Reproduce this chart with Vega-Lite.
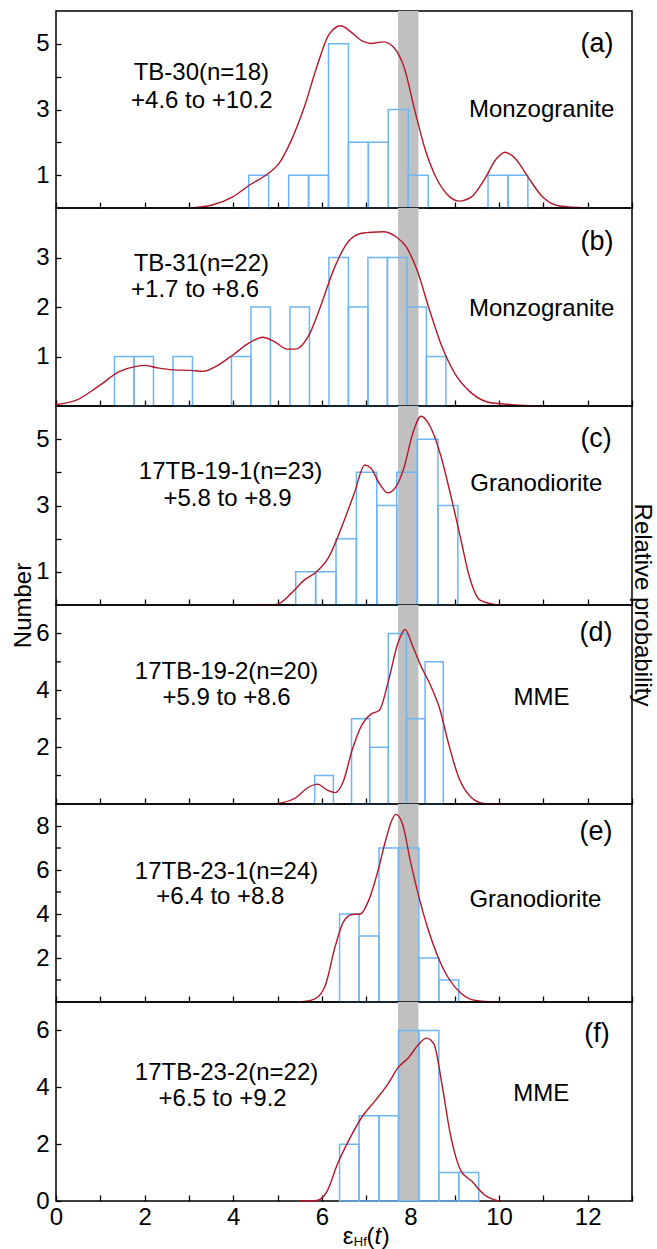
{
 "$schema": "https://vega.github.io/schema/vega-lite/v6.json",
 "padding": {"left": 10, "top": 10, "right": 2, "bottom": 0},
 "autosize": {"type": "pad"},
 "bounds": "flush",
 "data": {"values": [{}]},
 "datasets": {
  "band": [{"lo": 7.72, "hi": 8.18}],
  "minor": [{"p":"d","v":1},{"p":"d","v":3},{"p":"d","v":5},{"p":"e","v":1},{"p":"e","v":3},{"p":"e","v":5},{"p":"e","v":7}],
  "bars": [
   {"p":"a","x0":4.35,"x1":4.80,"n":1},{"p":"a","x0":5.25,"x1":5.70,"n":1},{"p":"a","x0":5.70,"x1":6.15,"n":1},{"p":"a","x0":6.15,"x1":6.60,"n":5},{"p":"a","x0":6.60,"x1":7.05,"n":2},{"p":"a","x0":7.05,"x1":7.50,"n":2},{"p":"a","x0":7.50,"x1":7.95,"n":3},{"p":"a","x0":7.95,"x1":8.40,"n":1},{"p":"a","x0":9.75,"x1":10.20,"n":1},{"p":"a","x0":10.20,"x1":10.65,"n":1},
   {"p":"b","x0":1.32,"x1":1.76,"n":1},{"p":"b","x0":1.76,"x1":2.20,"n":1},{"p":"b","x0":2.64,"x1":3.08,"n":1},{"p":"b","x0":3.96,"x1":4.40,"n":1},{"p":"b","x0":4.40,"x1":4.84,"n":2},{"p":"b","x0":5.28,"x1":5.72,"n":2},{"p":"b","x0":6.16,"x1":6.60,"n":3},{"p":"b","x0":6.60,"x1":7.04,"n":2},{"p":"b","x0":7.04,"x1":7.48,"n":3},{"p":"b","x0":7.48,"x1":7.92,"n":3},{"p":"b","x0":7.92,"x1":8.36,"n":2},{"p":"b","x0":8.36,"x1":8.80,"n":1},
   {"p":"c","x0":5.41,"x1":5.86,"n":1},{"p":"c","x0":5.86,"x1":6.32,"n":1},{"p":"c","x0":6.32,"x1":6.78,"n":2},{"p":"c","x0":6.78,"x1":7.24,"n":4},{"p":"c","x0":7.24,"x1":7.69,"n":3},{"p":"c","x0":7.69,"x1":8.15,"n":4},{"p":"c","x0":8.15,"x1":8.62,"n":5},{"p":"c","x0":8.62,"x1":9.07,"n":3},
   {"p":"d","x0":5.84,"x1":6.26,"n":1},{"p":"d","x0":6.67,"x1":7.08,"n":3},{"p":"d","x0":7.08,"x1":7.50,"n":2},{"p":"d","x0":7.50,"x1":7.91,"n":6},{"p":"d","x0":7.91,"x1":8.33,"n":3},{"p":"d","x0":8.33,"x1":8.74,"n":5},
   {"p":"e","x0":6.40,"x1":6.84,"n":4},{"p":"e","x0":6.84,"x1":7.29,"n":3},{"p":"e","x0":7.29,"x1":7.73,"n":7},{"p":"e","x0":7.73,"x1":8.19,"n":7},{"p":"e","x0":8.19,"x1":8.64,"n":2},{"p":"e","x0":8.64,"x1":9.09,"n":1},
   {"p":"f","x0":6.40,"x1":6.84,"n":2},{"p":"f","x0":6.84,"x1":7.29,"n":3},{"p":"f","x0":7.29,"x1":7.73,"n":3},{"p":"f","x0":7.73,"x1":8.19,"n":6},{"p":"f","x0":8.19,"x1":8.64,"n":6},{"p":"f","x0":8.64,"x1":9.09,"n":1},{"p":"f","x0":9.09,"x1":9.54,"n":1}
  ],
  "curve": [
   {"p":"a","x":3.0,"y":0},{"p":"a","x":3.52,"y":0.09},{"p":"a","x":3.99,"y":0.34},{"p":"a","x":4.37,"y":0.70},{"p":"a","x":4.79,"y":1.05},{"p":"a","x":5.03,"y":1.35},{"p":"a","x":5.31,"y":2.06},{"p":"a","x":5.60,"y":3.06},{"p":"a","x":5.88,"y":4.27},{"p":"a","x":6.16,"y":5.28},{"p":"a","x":6.43,"y":5.55},{"p":"a","x":6.64,"y":5.38},{"p":"a","x":6.92,"y":5.08},{"p":"a","x":7.11,"y":5.01},{"p":"a","x":7.39,"y":5.06},{"p":"a","x":7.63,"y":4.88},{"p":"a","x":7.86,"y":4.27},{"p":"a","x":8.10,"y":2.96},{"p":"a","x":8.34,"y":1.75},{"p":"a","x":8.57,"y":0.95},{"p":"a","x":8.81,"y":0.44},{"p":"a","x":9.09,"y":0.21},{"p":"a","x":9.38,"y":0.34},{"p":"a","x":9.66,"y":0.85},{"p":"a","x":9.94,"y":1.50},{"p":"a","x":10.13,"y":1.70},{"p":"a","x":10.37,"y":1.50},{"p":"a","x":10.65,"y":0.95},{"p":"a","x":10.98,"y":0.34},{"p":"a","x":11.36,"y":0.06},{"p":"a","x":11.98,"y":0},
   {"p":"b","x":0,"y":0.03},{"p":"b","x":0.49,"y":0.13},{"p":"b","x":0.96,"y":0.40},{"p":"b","x":1.44,"y":0.70},{"p":"b","x":1.81,"y":0.80},{"p":"b","x":2.0,"y":0.82},{"p":"b","x":2.29,"y":0.77},{"p":"b","x":2.66,"y":0.73},{"p":"b","x":3.04,"y":0.72},{"p":"b","x":3.33,"y":0.70},{"p":"b","x":3.61,"y":0.80},{"p":"b","x":3.99,"y":1.03},{"p":"b","x":4.37,"y":1.28},{"p":"b","x":4.67,"y":1.39},{"p":"b","x":4.93,"y":1.30},{"p":"b","x":5.22,"y":1.15},{"p":"b","x":5.41,"y":1.15},{"p":"b","x":5.69,"y":1.40},{"p":"b","x":5.97,"y":2.01},{"p":"b","x":6.26,"y":2.74},{"p":"b","x":6.54,"y":3.25},{"p":"b","x":6.82,"y":3.47},{"p":"b","x":7.11,"y":3.51},{"p":"b","x":7.39,"y":3.52},{"p":"b","x":7.67,"y":3.42},{"p":"b","x":7.91,"y":3.21},{"p":"b","x":8.15,"y":2.74},{"p":"b","x":8.43,"y":1.94},{"p":"b","x":8.71,"y":1.20},{"p":"b","x":9.0,"y":0.66},{"p":"b","x":9.38,"y":0.26},{"p":"b","x":9.85,"y":0.06},{"p":"b","x":10.98,"y":0},
   {"p":"c","x":4.51,"y":0},{"p":"c","x":4.98,"y":0.02},{"p":"c","x":5.31,"y":0.35},{"p":"c","x":5.60,"y":0.75},{"p":"c","x":5.88,"y":1.0},{"p":"c","x":6.16,"y":1.45},{"p":"c","x":6.45,"y":2.36},{"p":"c","x":6.73,"y":3.36},{"p":"c","x":6.97,"y":4.22},{"p":"c","x":7.11,"y":4.12},{"p":"c","x":7.30,"y":3.66},{"p":"c","x":7.49,"y":3.38},{"p":"c","x":7.67,"y":3.56},{"p":"c","x":7.86,"y":4.17},{"p":"c","x":8.05,"y":5.17},{"p":"c","x":8.24,"y":5.69},{"p":"c","x":8.43,"y":5.42},{"p":"c","x":8.67,"y":4.57},{"p":"c","x":8.90,"y":3.36},{"p":"c","x":9.14,"y":1.96},{"p":"c","x":9.33,"y":0.85},{"p":"c","x":9.57,"y":0.15},{"p":"c","x":9.99,"y":0},
   {"p":"d","x":4.98,"y":0.01},{"p":"d","x":5.41,"y":0.22},{"p":"d","x":5.69,"y":0.58},{"p":"d","x":5.90,"y":0.70},{"p":"d","x":6.12,"y":0.49},{"p":"d","x":6.30,"y":0.40},{"p":"d","x":6.49,"y":0.82},{"p":"d","x":6.68,"y":1.88},{"p":"d","x":6.92,"y":2.83},{"p":"d","x":7.11,"y":3.16},{"p":"d","x":7.30,"y":3.30},{"p":"d","x":7.49,"y":4.25},{"p":"d","x":7.72,"y":5.67},{"p":"d","x":7.88,"y":6.14},{"p":"d","x":8.05,"y":5.55},{"p":"d","x":8.24,"y":4.84},{"p":"d","x":8.43,"y":4.25},{"p":"d","x":8.67,"y":3.30},{"p":"d","x":8.86,"y":2.12},{"p":"d","x":9.09,"y":0.93},{"p":"d","x":9.38,"y":0.22},{"p":"d","x":9.66,"y":0.02},{"p":"d","x":9.99,"y":0},
   {"p":"e","x":5.50,"y":0},{"p":"e","x":5.83,"y":0.13},{"p":"e","x":6.07,"y":0.70},{"p":"e","x":6.30,"y":2.52},{"p":"e","x":6.49,"y":3.65},{"p":"e","x":6.68,"y":3.98},{"p":"e","x":6.87,"y":4.0},{"p":"e","x":7.06,"y":4.63},{"p":"e","x":7.25,"y":5.84},{"p":"e","x":7.44,"y":7.35},{"p":"e","x":7.58,"y":8.26},{"p":"e","x":7.67,"y":8.53},{"p":"e","x":7.82,"y":8.10},{"p":"e","x":8.01,"y":6.29},{"p":"e","x":8.19,"y":4.78},{"p":"e","x":8.38,"y":3.42},{"p":"e","x":8.62,"y":2.06},{"p":"e","x":8.86,"y":1.08},{"p":"e","x":9.14,"y":0.40},{"p":"e","x":9.47,"y":0.07},{"p":"e","x":9.94,"y":0},
   {"p":"f","x":5.50,"y":0},{"p":"f","x":5.88,"y":0.02},{"p":"f","x":6.12,"y":0.35},{"p":"f","x":6.35,"y":1.29},{"p":"f","x":6.64,"y":2.23},{"p":"f","x":6.92,"y":2.99},{"p":"f","x":7.20,"y":3.52},{"p":"f","x":7.49,"y":4.11},{"p":"f","x":7.72,"y":4.69},{"p":"f","x":7.96,"y":5.05},{"p":"f","x":8.19,"y":5.52},{"p":"f","x":8.36,"y":5.73},{"p":"f","x":8.53,"y":5.52},{"p":"f","x":8.71,"y":4.11},{"p":"f","x":8.90,"y":2.35},{"p":"f","x":9.14,"y":1.06},{"p":"f","x":9.38,"y":0.70},{"p":"f","x":9.66,"y":0.23},{"p":"f","x":9.99,"y":0}
  ]
 },
 "config": {
  "font": "Liberation Sans",
  "view": {"stroke": "#000", "strokeWidth": 1.5},
  "axis": {"labelFont": "Liberation Sans", "titleFont": "Liberation Sans", "labelFontSize": 24, "labelColor": "#000", "tickColor": "#000", "tickWidth": 1.3, "titleColor": "#000", "titleFontWeight": "normal", "titleFontSize": 24, "grid": false, "domain": false, "labelOverlap": false, "labelFlush": false},
  "text": {"font": "Liberation Sans", "fontSize": 24, "color": "#000"},
  "concat": {"spacing": 0}
 },
 "spacing": 0,
 "vconcat": [
  {"width": 576, "height": 197, "layer": [
   {"data": {"name": "band"}, "mark": {"type": "rect", "color": "#c0c0c0"}, "encoding": {"x": {"field": "lo", "type": "quantitative", "scale": {"domain": [0, 13], "nice": false, "zero": false}, "axis": {"values": [0,1,2,3,4,5,6,7,8,9,10,11,12,13], "labels": false, "tickSize": -6, "title": null}}, "x2": {"field": "hi"}}},
   {"data": {"name": "bars"}, "transform": [{"filter": "datum.p == 'a'"}], "mark": {"type": "rect", "fillOpacity": 0, "stroke": "#6db6f5", "strokeWidth": 1.5}, "encoding": {"x": {"field": "x0", "type": "quantitative"}, "x2": {"field": "x1"}, "y": {"field": "n", "type": "quantitative", "scale": {"domain": [0, 6], "nice": false}, "axis": {"values": [1,2,3,4,5], "labelExpr": "datum.value % 2 == 1 ? datum.label : ''", "labelOverlap": false, "tickSize": -5, "labelPadding": 12, "title": null}}, "y2": {"datum": 0}}},
   {"data": {"name": "curve"}, "transform": [{"filter": "datum.p == 'a'"}], "mark": {"type": "line", "color": "#b2182b", "strokeWidth": 1.4, "interpolate": "monotone"}, "encoding": {"x": {"field": "x", "type": "quantitative"}, "y": {"field": "y", "type": "quantitative"}}},
   {"mark": {"type": "text", "text": "TB-30(n=18)"}, "encoding": {"x": {"datum": 3.28}, "y": {"datum": 4.12}}},
   {"mark": {"type": "text", "text": "+4.6 to +10.2"}, "encoding": {"x": {"datum": 3.29}, "y": {"datum": 3.26}}},
   {"mark": {"type": "text", "text": "Monzogranite"}, "encoding": {"x": {"datum": 10.96}, "y": {"datum": 2.98}}},
   {"mark": {"type": "text", "text": "(a)", "fontSize": 27}, "encoding": {"x": {"datum": 12.21}, "y": {"datum": 4.98}}}
  ]},
  {"width": 576, "height": 198, "layer": [
   {"data": {"name": "band"}, "mark": {"type": "rect", "color": "#c0c0c0"}, "encoding": {"x": {"field": "lo", "type": "quantitative", "scale": {"domain": [0, 13], "nice": false, "zero": false}, "axis": {"values": [0,1,2,3,4,5,6,7,8,9,10,11,12,13], "labels": false, "tickSize": -6, "title": null}}, "x2": {"field": "hi"}}},
   {"data": {"name": "bars"}, "transform": [{"filter": "datum.p == 'b'"}], "mark": {"type": "rect", "fillOpacity": 0, "stroke": "#6db6f5", "strokeWidth": 1.5}, "encoding": {"x": {"field": "x0", "type": "quantitative"}, "x2": {"field": "x1"}, "y": {"field": "n", "type": "quantitative", "scale": {"domain": [0, 4], "nice": false}, "axis": {"values": [1,2,3], "labelOverlap": false, "tickSize": -5, "labelPadding": 12, "title": null}}, "y2": {"datum": 0}}},
   {"data": {"name": "curve"}, "transform": [{"filter": "datum.p == 'b'"}], "mark": {"type": "line", "color": "#b2182b", "strokeWidth": 1.4, "interpolate": "monotone"}, "encoding": {"x": {"field": "x", "type": "quantitative"}, "y": {"field": "y", "type": "quantitative"}}},
   {"mark": {"type": "text", "text": "TB-31(n=22)"}, "encoding": {"x": {"datum": 3.28}, "y": {"datum": 2.87}}},
   {"mark": {"type": "text", "text": "+1.7 to +8.6"}, "encoding": {"x": {"datum": 3.14}, "y": {"datum": 2.34}}},
   {"mark": {"type": "text", "text": "Monzogranite"}, "encoding": {"x": {"datum": 10.96}, "y": {"datum": 1.95}}},
   {"mark": {"type": "text", "text": "(b)", "fontSize": 27}, "encoding": {"x": {"datum": 12.21}, "y": {"datum": 3.32}}}
  ]},
  {"width": 576, "height": 199, "layer": [
   {"data": {"name": "band"}, "mark": {"type": "rect", "color": "#c0c0c0"}, "encoding": {"x": {"field": "lo", "type": "quantitative", "scale": {"domain": [0, 13], "nice": false, "zero": false}, "axis": {"values": [0,1,2,3,4,5,6,7,8,9,10,11,12,13], "labels": false, "tickSize": -6, "title": null}}, "x2": {"field": "hi"}}},
   {"data": {"name": "bars"}, "transform": [{"filter": "datum.p == 'c'"}], "mark": {"type": "rect", "fillOpacity": 0, "stroke": "#6db6f5", "strokeWidth": 1.5}, "encoding": {"x": {"field": "x0", "type": "quantitative"}, "x2": {"field": "x1"}, "y": {"field": "n", "type": "quantitative", "scale": {"domain": [0, 6], "nice": false}, "axis": {"values": [1,2,3,4,5], "labelExpr": "datum.value % 2 == 1 ? datum.label : ''", "labelOverlap": false, "tickSize": -5, "labelPadding": 12, "title": "Number", "titleY": 199, "titlePadding": 0}}, "y2": {"datum": 0}}},
   {"data": {"name": "curve"}, "transform": [{"filter": "datum.p == 'c'"}], "mark": {"type": "line", "color": "#b2182b", "strokeWidth": 1.4, "interpolate": "monotone"}, "encoding": {"x": {"field": "x", "type": "quantitative"}, "y": {"field": "y", "type": "quantitative"}}},
   {"mark": {"type": "text", "text": "17TB-19-1(n=23)"}, "encoding": {"x": {"datum": 3.94}, "y": {"datum": 4.0}}},
   {"mark": {"type": "text", "text": "+5.8 to +8.9"}, "encoding": {"x": {"datum": 3.87}, "y": {"datum": 3.21}}},
   {"mark": {"type": "text", "text": "Granodiorite"}, "encoding": {"x": {"datum": 10.84}, "y": {"datum": 3.66}}},
   {"mark": {"type": "text", "text": "(c)", "fontSize": 27}, "encoding": {"x": {"datum": 12.19}, "y": {"datum": 5.02}}},
   {"mark": {"type": "text", "text": "Relative probability", "angle": 90, "fontSize": 24}, "encoding": {"x": {"datum": 13.23}, "y": {"datum": 0}}}
  ]},
  {"width": 576, "height": 199, "layer": [
   {"data": {"name": "band"}, "mark": {"type": "rect", "color": "#c0c0c0"}, "encoding": {"x": {"field": "lo", "type": "quantitative", "scale": {"domain": [0, 13], "nice": false, "zero": false}, "axis": {"values": [0,1,2,3,4,5,6,7,8,9,10,11,12,13], "labels": false, "tickSize": -6, "title": null}}, "x2": {"field": "hi"}}},
   {"data": {"name": "bars"}, "transform": [{"filter": "datum.p == 'd'"}], "mark": {"type": "rect", "fillOpacity": 0, "stroke": "#6db6f5", "strokeWidth": 1.5}, "encoding": {"x": {"field": "x0", "type": "quantitative"}, "x2": {"field": "x1"}, "y": {"field": "n", "type": "quantitative", "scale": {"domain": [0, 7], "nice": false}, "axis": {"values": [2,4,6], "labelOverlap": false, "tickSize": -5, "labelPadding": 12, "title": null}}, "y2": {"datum": 0}}},
   {"data": {"name": "minor"}, "transform": [{"filter": "datum.p == 'd'"}], "mark": {"type": "rule", "color": "#000", "strokeWidth": 1.3}, "encoding": {"x": {"datum": 0}, "x2": {"datum": 0.113}, "y": {"field": "v", "type": "quantitative"}}},
   {"data": {"name": "curve"}, "transform": [{"filter": "datum.p == 'd'"}], "mark": {"type": "line", "color": "#b2182b", "strokeWidth": 1.4, "interpolate": "monotone"}, "encoding": {"x": {"field": "x", "type": "quantitative"}, "y": {"field": "y", "type": "quantitative"}}},
   {"mark": {"type": "text", "text": "17TB-19-2(n=20)"}, "encoding": {"x": {"datum": 3.85}, "y": {"datum": 4.66}}},
   {"mark": {"type": "text", "text": "+5.9 to +8.6"}, "encoding": {"x": {"datum": 3.85}, "y": {"datum": 3.72}}},
   {"mark": {"type": "text", "text": "MME"}, "encoding": {"x": {"datum": 10.96}, "y": {"datum": 3.72}}},
   {"mark": {"type": "text", "text": "(d)", "fontSize": 27}, "encoding": {"x": {"datum": 12.19}, "y": {"datum": 6.02}}}
  ]},
  {"width": 576, "height": 198, "layer": [
   {"data": {"name": "band"}, "mark": {"type": "rect", "color": "#c0c0c0"}, "encoding": {"x": {"field": "lo", "type": "quantitative", "scale": {"domain": [0, 13], "nice": false, "zero": false}, "axis": {"values": [0,1,2,3,4,5,6,7,8,9,10,11,12,13], "labels": false, "tickSize": -6, "title": null}}, "x2": {"field": "hi"}}},
   {"data": {"name": "bars"}, "transform": [{"filter": "datum.p == 'e'"}], "mark": {"type": "rect", "fillOpacity": 0, "stroke": "#6db6f5", "strokeWidth": 1.5}, "encoding": {"x": {"field": "x0", "type": "quantitative"}, "x2": {"field": "x1"}, "y": {"field": "n", "type": "quantitative", "scale": {"domain": [0, 9], "nice": false}, "axis": {"values": [2,4,6,8], "labelOverlap": false, "tickSize": -5, "labelPadding": 12, "title": null}}, "y2": {"datum": 0}}},
   {"data": {"name": "minor"}, "transform": [{"filter": "datum.p == 'e'"}], "mark": {"type": "rule", "color": "#000", "strokeWidth": 1.3}, "encoding": {"x": {"datum": 0}, "x2": {"datum": 0.113}, "y": {"field": "v", "type": "quantitative"}}},
   {"data": {"name": "curve"}, "transform": [{"filter": "datum.p == 'e'"}], "mark": {"type": "line", "color": "#b2182b", "strokeWidth": 1.4, "interpolate": "monotone"}, "encoding": {"x": {"field": "x", "type": "quantitative"}, "y": {"field": "y", "type": "quantitative"}}},
   {"mark": {"type": "text", "text": "17TB-23-1(n=24)"}, "encoding": {"x": {"datum": 3.85}, "y": {"datum": 5.91}}},
   {"mark": {"type": "text", "text": "+6.4 to +8.8"}, "encoding": {"x": {"datum": 3.71}, "y": {"datum": 4.78}}},
   {"mark": {"type": "text", "text": "Granodiorite"}, "encoding": {"x": {"datum": 10.82}, "y": {"datum": 4.63}}},
   {"mark": {"type": "text", "text": "(e)", "fontSize": 27}, "encoding": {"x": {"datum": 12.19}, "y": {"datum": 7.73}}}
  ]},
  {"width": 576, "height": 199, "layer": [
   {"data": {"name": "band"}, "mark": {"type": "rect", "color": "#c0c0c0"}, "encoding": {"x": {"field": "lo", "type": "quantitative", "scale": {"domain": [0, 13], "nice": false, "zero": false}, "axis": {"values": [0,1,2,3,4,5,6,7,8,9,10,11,12,13], "labelExpr": "datum.value % 2 == 0 ? datum.label : ''", "labelOverlap": false, "tickSize": -6, "labelPadding": 10, "title": null}}, "x2": {"field": "hi"}}},
   {"data": {"name": "bars"}, "transform": [{"filter": "datum.p == 'f'"}], "mark": {"type": "rect", "fillOpacity": 0, "stroke": "#6db6f5", "strokeWidth": 1.5}, "encoding": {"x": {"field": "x0", "type": "quantitative"}, "x2": {"field": "x1"}, "y": {"field": "n", "type": "quantitative", "scale": {"domain": [0, 7], "nice": false}, "axis": {"values": [0,1,2,3,4,5,6], "labelExpr": "datum.value % 2 == 0 ? datum.label : ''", "labelOverlap": false, "tickSize": -5, "labelPadding": 12, "title": null}}, "y2": {"datum": 0}}},
   {"data": {"name": "curve"}, "transform": [{"filter": "datum.p == 'f'"}], "mark": {"type": "line", "color": "#b2182b", "strokeWidth": 1.4, "interpolate": "monotone"}, "encoding": {"x": {"field": "x", "type": "quantitative"}, "y": {"field": "y", "type": "quantitative"}}},
   {"mark": {"type": "text", "text": "17TB-23-2(n=22)"}, "encoding": {"x": {"datum": 3.85}, "y": {"datum": 4.52}}},
   {"mark": {"type": "text", "text": "+6.5 to +9.2"}, "encoding": {"x": {"datum": 3.76}, "y": {"datum": 3.58}}},
   {"mark": {"type": "text", "text": "MME"}, "encoding": {"x": {"datum": 10.95}, "y": {"datum": 3.76}}},
   {"mark": {"type": "text", "text": "(f)", "fontSize": 27}, "encoding": {"x": {"datum": 12.21}, "y": {"datum": 5.87}}},
   {"mark": {"type": "text", "text": "ε", "fontSize": 24, "align": "left"}, "encoding": {"x": {"datum": 6.47}, "y": {"datum": -1.25}}},
   {"mark": {"type": "text", "text": "Hf", "fontSize": 13, "align": "left"}, "encoding": {"x": {"datum": 6.72}, "y": {"datum": -1.43}}},
   {"mark": {"type": "text", "text": "(", "fontSize": 24, "align": "left"}, "encoding": {"x": {"datum": 7.01}, "y": {"datum": -1.25}}},
   {"mark": {"type": "text", "text": "t", "fontSize": 24, "fontStyle": "italic", "align": "left"}, "encoding": {"x": {"datum": 7.19}, "y": {"datum": -1.25}}},
   {"mark": {"type": "text", "text": ")", "fontSize": 24, "align": "left"}, "encoding": {"x": {"datum": 7.35}, "y": {"datum": -1.25}}}
  ]}
 ]
}
